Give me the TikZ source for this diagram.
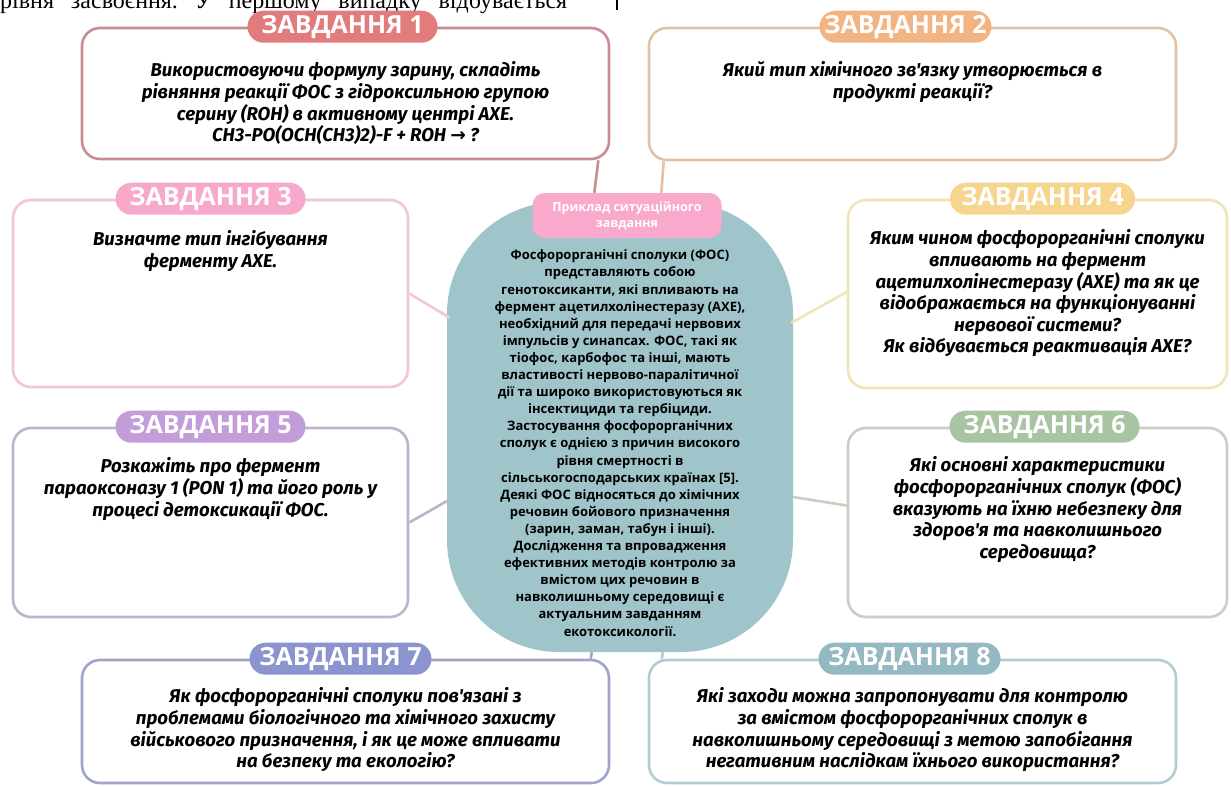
\documentclass[tikz,border=0pt]{standalone}
\usepackage{fontspec}
\setmainfont{Open Sans}
\newfontfamily\questionfont{Fira Sans}
\newfontfamily\pagefont{Liberation Serif}
\newfontfamily\arrowfont{DejaVu Sans}
\usetikzlibrary{positioning,calc}

\definecolor{t1-pill}{HTML}{E27B7B}
\definecolor{t1-line}{HTML}{C98C92}
\definecolor{t2-pill}{HTML}{F2B483}
\definecolor{t2-line}{HTML}{E2C2A4}
\definecolor{t3-pill}{HTML}{F8A9CB}
\definecolor{t3-line}{HTML}{F0C6D8}
\definecolor{t4-pill}{HTML}{F6D58F}
\definecolor{t4-line}{HTML}{F1E3BA}
\definecolor{t5-pill}{HTML}{C29DDA}
\definecolor{t5-line}{HTML}{BFB3CC}
\definecolor{t6-pill}{HTML}{A9C4A3}
\definecolor{t6-line}{HTML}{C7CFC0}
\definecolor{t7-pill}{HTML}{8C94CF}
\definecolor{t7-line}{HTML}{9EA4CB}
\definecolor{t8-pill}{HTML}{94B9C3}
\definecolor{t8-line}{HTML}{B3CCD2}
\definecolor{centre-fill}{HTML}{9FC4CA}
\definecolor{centre-pill}{HTML}{F9A9CC}

\tikzstyle{task-box}=[draw, line width=2.6pt, fill=white, rounded corners=18pt, inner sep=0pt]
\tikzstyle{task-pill}=[text=white, font=\fontsize{25}{25}\selectfont\bfseries, minimum width=190pt, minimum height=32pt, rounded corners=16pt, inner sep=0pt]
\tikzstyle{task-text}=[font=\questionfont\fontsize{18.6}{21.6}\selectfont\bfseries\itshape, align=center, inner sep=0pt]
\tikzstyle{task-link}=[line width=2.6pt]

\begin{document}
\begin{tikzpicture}[x=1pt, y=-1pt]
  \useasboundingbox (0,0) rectangle (1231,785);
  \fill[white] (0,0) rectangle (1231,785);

  % cut-off line of the page above
  \node (page-line) at (0,8) [anchor=base west, inner sep=0pt, font=\pagefont\fontsize{24}{24}\selectfont] {\frenchspacing\makebox[567pt][s]{рівня засвоєння. У першому випадку відбувається}};
  \draw[line width=1.2pt] (617,0) -- (617,10);

  % centre
  \node (centre) at (620,427) [fill=centre-fill, rounded corners=112pt, minimum width=346pt, minimum height=450pt, inner sep=0pt] {};
  \node (story) [below=48pt of centre.north, align=center, inner sep=0pt, font=\fontsize{13}{17.1}\selectfont\bfseries] {Фосфорорганічні сполуки (ФОС)\\представляють собою\\генотоксиканти, які впливають на\\фермент ацетилхолінестеразу (АХЕ),\\необхідний для передачі нервових\\імпульсів у синапсах. ФОС, такі як\\тіофос, карбофос та інші, мають\\властивості нервово-паралітичної\\дії та широко використовуються як\\інсектициди та гербіциди.\\Застосування фосфорорганічних\\сполук є однією з причин високого\\рівня смертності в\\сільськогосподарських країнах [5].\\Деякі ФОС відносяться до хімічних\\речовин бойового призначення\\(зарин, заман, табун і інші).\\Дослідження та впровадження\\ефективних методів контролю за\\вмістом цих речовин в\\навколишньому середовищі є\\актуальним завданням\\екотоксикології.};
  \node (story-pill) at (627,215.5) [fill=centre-pill, text=white, rounded corners=12pt, minimum width=189pt, minimum height=45pt, align=center, inner sep=0pt, font=\fontsize{12.5}{16}\selectfont\bfseries] {Приклад ситуаційного\\завдання};

  % tasks
  \node (task-1) at (345.5,93.5) [task-box, draw=t1-line, minimum width=527pt, minimum height=131pt] {};
  \node (pill-1) at (task-1.north) [task-pill, fill=t1-pill, xshift=-3pt] {ЗАВДАННЯ 1};
  \node (text-1) [task-text, below=35pt of task-1.north] {Використовуючи формулу зарину, складіть\\рівняння реакції ФОС з гідроксильною групою\\серину (ROH) в активному центрі АХЕ.\\CH3-PO(OCH(CH3)2)-F + ROH {\arrowfont\bfseries →} ?};

  \node (task-2) at (912.5,94) [task-box, draw=t2-line, minimum width=527pt, minimum height=132pt] {};
  \node (pill-2) at (task-2.north) [task-pill, fill=t2-pill, xshift=-7pt, minimum width=172pt] {ЗАВДАННЯ 2};
  \node (text-2) [task-text, below=35pt of task-2.north] {Який тип хімічного зв'язку утворюється в\\продукті реакції?};

  \node (task-3) at (210.5,293.5) [task-box, draw=t3-line, minimum width=395pt, minimum height=187pt] {};
  \node (pill-3) at (task-3.north) [task-pill, fill=t3-pill] {ЗАВДАННЯ 3};
  \node (text-3) [task-text, below=32pt of task-3.north] {Визначте тип інгібування\\ферменту АХЕ.};

  \node (task-4) at (1037.5,294) [task-box, draw=t4-line, minimum width=379pt, minimum height=188pt] {};
  \node (pill-4) at (task-4.north) [task-pill, fill=t4-pill, xshift=5pt, minimum width=185pt] {ЗАВДАННЯ 4};
  \node (text-4) [task-text, below=31pt of task-4.north] {Яким чином фосфорорганічні сполуки\\впливають на фермент\\ацетилхолінестеразу (АХЕ) та як це\\відображається на функціонуванні\\нервової системи?\\Як відбувається реактивація АХЕ?};

  \node (task-5) at (210.5,522.5) [task-box, draw=t5-line, minimum width=395pt, minimum height=189pt] {};
  \node (pill-5) at (task-5.north) [task-pill, fill=t5-pill] {ЗАВДАННЯ 5};
  \node (text-5) [task-text, below=31pt of task-5.north] {Розкажіть про фермент\\параоксоназу 1 (PON 1) та його роль у\\процесі детоксикації ФОС.};

  \node (task-6) at (1037.5,522.5) [task-box, draw=t6-line, minimum width=379pt, minimum height=189pt] {};
  \node (pill-6) at (task-6.north) [task-pill, fill=t6-pill, xshift=7pt] {ЗАВДАННЯ 6};
  \node (text-6) [task-text, below=30pt of task-6.north] {Які основні характеристики\\фосфорорганічних сполук (ФОС)\\вказують на їхню небезпеку для\\здоров'я та навколишнього\\середовища?};

  \node (task-7) at (345.5,721.5) [task-box, draw=t7-line, minimum width=527pt, minimum height=123pt] {};
  \node (pill-7) at (task-7.north) [task-pill, fill=t7-pill, xshift=-5pt, minimum width=182pt] {ЗАВДАННЯ 7};
  \node (text-7) [task-text, below=29pt of task-7.north] {Як фосфорорганічні сполуки пов'язані з\\проблемами біологічного та хімічного захисту\\військового призначення, і як це може впливати\\на безпеку та екологію?};

  \node (task-8) at (912.5,721.5) [task-box, draw=t8-line, minimum width=527pt, minimum height=123pt] {};
  \node (pill-8) at (task-8.north) [task-pill, fill=t8-pill, xshift=-3pt, minimum width=182pt] {ЗАВДАННЯ 8};
  \node (text-8) [task-text, below=29pt of task-8.north] {Які заходи можна запропонувати для контролю\\за вмістом фосфорорганічних сполук в\\навколишньому середовищі з метою запобігання\\негативним наслідкам їхнього використання?};

  % links to the centre
  \draw[task-link, t1-line] ($(task-1.south east)+(-12,0)$) -- ($(story-pill.north west)+(62,0)$);
  \draw[task-link, t2-line] ($(task-2.south west)+(16,0)$) -- ($(story-pill.north west)+(129,0)$);
  \draw[task-link, t3-line] (task-3.east) -- ($(centre.north west)+(3,116)$);
  \draw[task-link, t4-line] ($(centre.north east)+(-2,121)$) -- ($(task-4.west)+(0,-2)$);
  \draw[task-link, t5-line] (task-5.east) -- ($(centre.west)+(2,73)$);
  \draw[task-link, t6-line] ($(centre.east)+(0,70)$) -- ($(task-6.west)+(0,-17)$);
  \draw[task-link, t7-line] ($(centre.south west)+(145,0)$) -- ($(task-7.north west)+(510,0)$);
  \draw[task-link, t8-line] ($(centre.south west)+(216,0)$) -- ($(task-8.north west)+(14,0)$);
\end{tikzpicture}
\end{document}
